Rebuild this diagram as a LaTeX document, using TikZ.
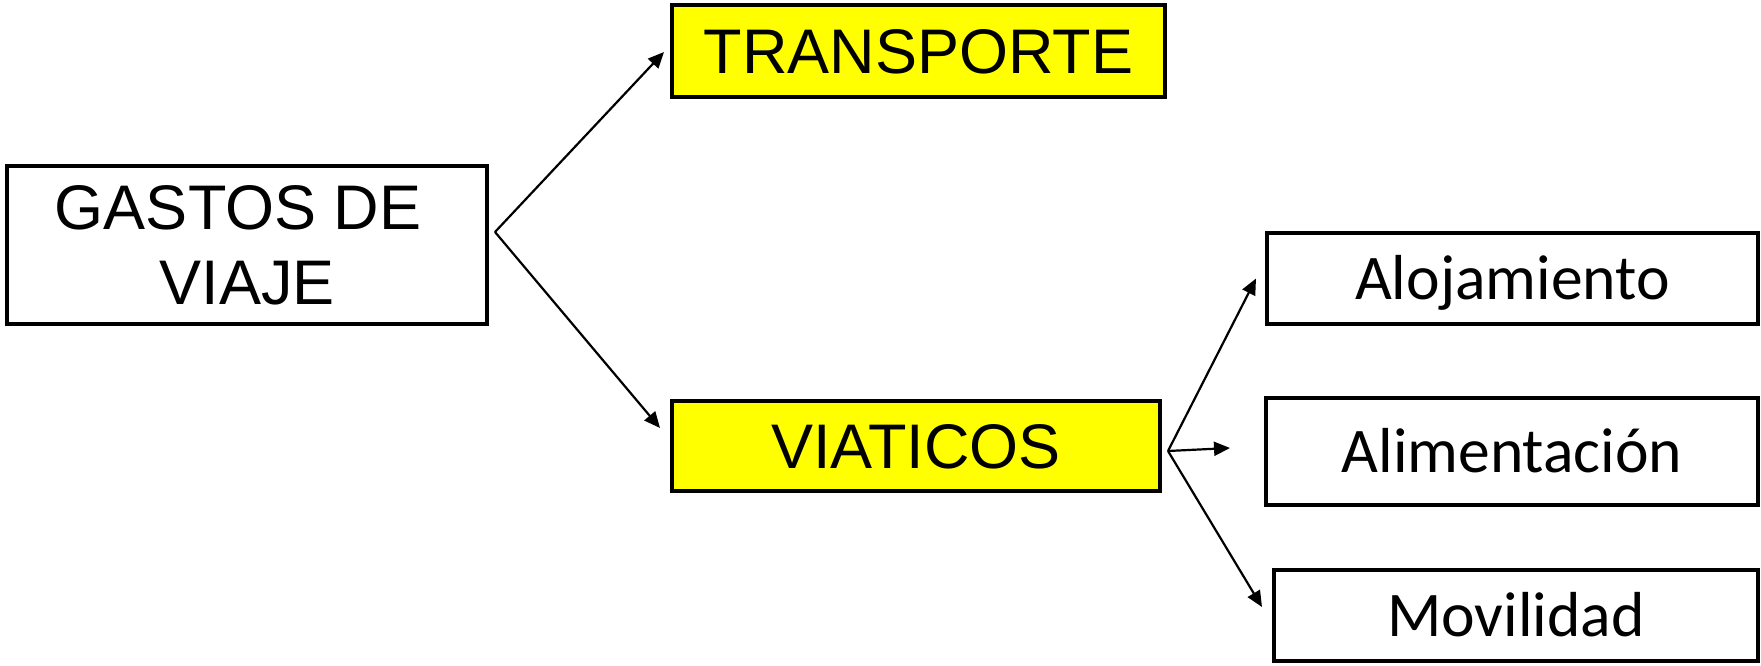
\documentclass[tikz,border=0pt]{standalone}
\usepackage{fontspec}
\setmainfont{Liberation Sans}
\newfontfamily\carlito{Carlito}
\usetikzlibrary{calc,arrows.meta}
\definecolor{amarillo}{RGB}{255,255,0}
\tikzset{
	caja/.style={draw, line width=2pt, inner sep=0pt, align=center},
	amarilla/.style={caja, fill=amarillo, text height=22.6pt, text depth=0pt},
	blanca/.style={caja, text height=20.5pt, text depth=0pt, font=\carlito\fontsize{31.8}{38}\selectfont},
	flecha/.style={line width=1.1pt, -{Triangle[length=8pt,width=7pt]}}
}

\begin{document}
\begin{tikzpicture}[x=0.5pt, y=-0.5pt, font=\fontsize{31.5}{37.5}\selectfont]
		%%%%% START %%%%%
		\useasboundingbox (0,0) rectangle (1761,665);

		\node[caja, minimum width=240pt, minimum height=79pt] (gastos) at (247,245) {GASTOS DE\kern0.28em\\VIAJE};

		\node[amarilla, minimum width=246.5pt, minimum height=46pt] (transporte) at (918.5,51) {TRANSPORTE};
		\node[amarilla, minimum width=244pt, minimum height=45pt] (viaticos) at (916,446) {VIATICOS};

		\node[blanca, minimum width=245.5pt, minimum height=45.5pt] (alojamiento) at (1512.5,278.5) {Alojamiento};
		\node[blanca, minimum width=246pt, minimum height=53.5pt] (alimentacion) at (1512,451.5) {Alimentación};
		\node[blanca, minimum width=242pt, minimum height=45.5pt] (movilidad) at (1516,615.5) {Movilidad};

		\coordinate (gv) at ($(gastos.east)+(6,-13)$);
		\draw[flecha] (gv) -- ($(transporte.west)+(-6,1)$);
		\draw[flecha] (gv) -- ($(viaticos.west)+(-10,-18)$);

		\coordinate (vv) at ($(viaticos.east)+(6,5)$);
		\draw[flecha] (vv) -- ($(alojamiento.west)+(-9,0)$);
		\draw[flecha] (vv) -- ($(alimentacion.west)+(-34,-3.5)$);
		\draw[flecha] (vv) -- ($(movilidad.west)+(-10,-8.5)$);
		%%%%% END %%%%%
	\end{tikzpicture}
\end{document}
